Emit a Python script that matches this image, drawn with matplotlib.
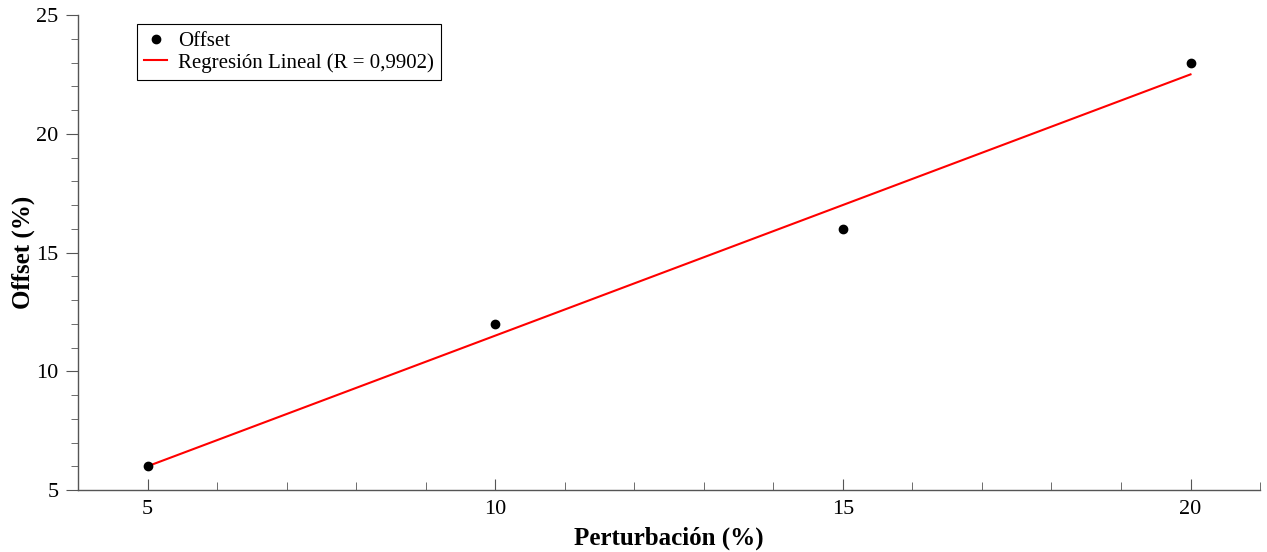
import numpy as np
import matplotlib
matplotlib.use("Agg")
import matplotlib.pyplot as plt
from matplotlib.ticker import MultipleLocator

# Measured offset versus applied perturbation
perturbacion = np.array([5, 10, 15, 20])
offset = np.array([6, 12, 16, 23])
r_label = "0,9902"

# Least-squares fit
pendiente, ordenada = np.polyfit(perturbacion, offset, 1)
x_fit = np.array([perturbacion.min(), perturbacion.max()])
y_fit = pendiente * x_fit + ordenada

plt.rcParams["font.family"] = ["Liberation Serif", "DejaVu Serif"]

fig = plt.figure(figsize=(12.67, 5.52), dpi=100)
ax = fig.add_axes([0.0616, 0.1123, 0.9329, 0.8605])

ax.plot(perturbacion, offset, "o", color="black", markersize=6, label="Offset", zorder=3)
ax.plot(x_fit, y_fit, "-", color="red", linewidth=1.5,
        label=f"Regresión Lineal (R = {r_label})", zorder=2)

ax.set_xlim(4, 21)
ax.set_ylim(5, 25)
ax.xaxis.set_major_locator(MultipleLocator(5))
ax.xaxis.set_minor_locator(MultipleLocator(1))
ax.yaxis.set_major_locator(MultipleLocator(5))
ax.yaxis.set_minor_locator(MultipleLocator(1))

for side in ("top", "right"):
    ax.spines[side].set_visible(False)
for side in ("left", "bottom"):
    ax.spines[side].set_color("#555555")
    ax.spines[side].set_linewidth(1.0)

ax.tick_params(axis="x", which="both", direction="in", color="#555555", labelsize=16, pad=7)
ax.tick_params(axis="x", which="major", length=8)
ax.tick_params(axis="x", which="minor", length=6)
ax.tick_params(axis="y", which="both", direction="out", color="#555555", labelsize=16, pad=5)
ax.tick_params(axis="y", which="major", length=9)
ax.tick_params(axis="y", which="minor", length=5)

ax.set_xlabel("Perturbación (%)", fontsize=18, fontweight="bold", labelpad=6)
ax.set_ylabel("Offset (%)", fontsize=18, fontweight="bold")
ax.yaxis.set_label_coords(-0.036, 0.5)

leg = ax.legend(loc="upper left", bbox_to_anchor=(0.05, 0.981), borderaxespad=0,
                fontsize=15, frameon=True, fancybox=False, edgecolor="black",
                framealpha=1, borderpad=0.35, handlelength=1.1, handletextpad=0.5,
                labelspacing=0.1)
leg.get_frame().set_linewidth(0.8)

fig.savefig("out.png", dpi=100)
